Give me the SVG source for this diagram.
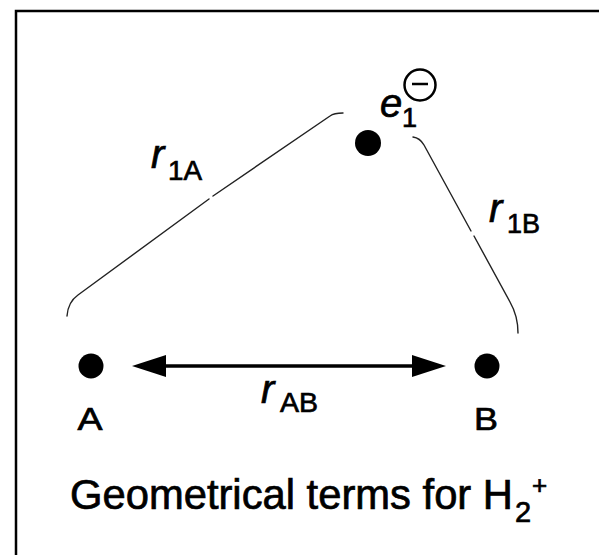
<svg xmlns="http://www.w3.org/2000/svg" width="599" height="555" viewBox="0 0 599 555">
<style>
.t{font-family:"Liberation Sans",Arial,Helvetica,sans-serif;fill:#000;stroke:#000;stroke-width:0.7}
.i{font-style:italic}
.dot{fill:#000}
.thin{fill:none;stroke:#222;stroke-width:1.4;stroke-linecap:round}
.frame{fill:none;stroke:#000;stroke-width:2.5}
</style>
<rect width="599" height="555" fill="#fff"/>
<path class="frame" d="M16,556 L16,11 L600,11"/>
<g id="connectors">
<path class="thin" d="M67,316 Q68,302 78,295 L209,199"/>
<path class="thin" d="M213,196 L330,116 Q334,113 343,113"/>
<path class="thin" d="M413,137 Q420,138 424,145 L471,231"/>
<path class="thin" d="M474,236 L510,302 Q518,316 518,333"/>
<line x1="160" y1="366" x2="418" y2="366" stroke="#000" stroke-width="3.5"/>
<path d="M132,366 L166,355 L166,377 Z" fill="#000"/>
<path d="M446,366 L412,355 L412,377 Z" fill="#000"/>
</g>
<g id="nodeA">
<circle class="dot" cx="91" cy="366" r="12.5"/>
<text class="t" x="90" y="430" font-size="32" text-anchor="middle" textLength="25" lengthAdjust="spacingAndGlyphs">A</text>
</g>
<g id="nodeB">
<circle class="dot" cx="487" cy="366" r="12.5"/>
<text class="t" x="486" y="430" font-size="32" text-anchor="middle" textLength="24" lengthAdjust="spacingAndGlyphs">B</text>
</g>
<g id="electron">
<circle class="dot" cx="368" cy="143" r="13"/>
<text class="t i" x="380" y="117" font-size="40">e</text>
<text class="t" x="402" y="127" font-size="27">1</text>
<circle cx="420" cy="85" r="15.5" fill="none" stroke="#000" stroke-width="2.5"/>
<line x1="412" y1="84" x2="428" y2="84" stroke="#000" stroke-width="2.5"/>
</g>
<g id="label-r1A">
<text class="t i" x="151" y="168" font-size="40">r</text>
<text class="t" x="168" y="180" font-size="28" textLength="34" lengthAdjust="spacingAndGlyphs">1A</text>
</g>
<g id="label-r1B">
<text class="t i" x="489" y="222" font-size="40">r</text>
<text class="t" x="507" y="233" font-size="28" textLength="33" lengthAdjust="spacingAndGlyphs">1B</text>
</g>
<g id="label-rAB">
<text class="t i" x="261" y="403" font-size="40">r</text>
<text class="t" x="280" y="412" font-size="28" textLength="38" lengthAdjust="spacingAndGlyphs">AB</text>
</g>
<g id="caption">
<text class="t" x="70" y="509" font-size="42" textLength="443" lengthAdjust="spacingAndGlyphs">Geometrical terms for H</text>
<text class="t" x="515" y="522" font-size="29">2</text>
<text class="t" x="532" y="494" font-size="26">+</text>
</g>
</svg>
